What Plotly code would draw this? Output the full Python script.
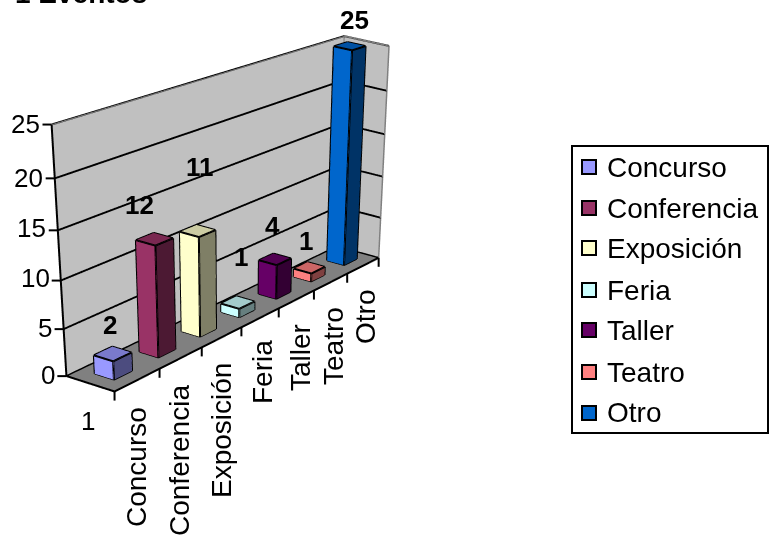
import numpy as np
import plotly.graph_objects as go

# ---- data
series = ["Concurso", "Conferencia", "Exposición", "Feria", "Taller", "Teatro", "Otro"]
values = [2, 12, 11, 1, 4, 1, 25]
colors = ["#9999FF", "#993366", "#FFFFCC", "#CCFFFF", "#660066", "#FF8080", "#0066CC"]
xlabels = ["1"] + series
zticks = [0, 5, 10, 15, 20, 25]
title = "1 Eventos"

# ---- scene set-up (the long lens needs a canvas larger than the visible window; the page crops it)
W, H = 1000, 1600
EYE = np.array([-5.9858, -4.1575, 2.3367])
CEN = np.array([-0.1644, -1.5522, -1.8933])
UP = np.array([0.0341, 0.1166, 1.0])
ASPECT = (2.0514, 0.2417, 1.0)
FOCAL, CX, CY = 1681.8008, 500.0, 696.6178
px = lambda x: x / W
py = lambda y: 1 - y / H


def to_screen(x, y, z):
    p = np.array([(x / 7 - .5) * ASPECT[0], (y - .5) * ASPECT[1], (z / 25 - .5) * ASPECT[2]])
    zc = EYE - CEN
    zc = zc / np.linalg.norm(zc)
    xc = np.cross(UP, zc)
    xc = xc / np.linalg.norm(xc)
    yc = np.cross(zc, xc)
    d = p - EYE
    return CX + FOCAL * (d @ xc) / -(d @ zc), CY - FOCAL * (d @ yc) / -(d @ zc)


def shade(c, k):
    r, g, b = [int(c[i:i + 2], 16) for i in (1, 3, 5)]
    return "#%02x%02x%02x" % (int(r * k), int(g * k), int(b * k))


fig = go.Figure()
for i, (n, v, col) in enumerate(zip(series, values, colors)):
    x0, x1, y0, y1 = i + .3, i + .7, .3, .7
    vx = [x0, x1, x1, x0, x0, x1, x1, x0]
    vy = [y0, y0, y1, y1, y0, y0, y1, y1]
    vz = [0, 0, 0, 0, v, v, v, v]
    I = [0, 0, 4, 4, 0, 0, 1, 1, 2, 2, 3, 3]
    J = [1, 2, 5, 6, 1, 5, 2, 6, 3, 7, 0, 4]
    K = [2, 3, 6, 7, 5, 4, 6, 5, 7, 6, 4, 7]
    fc = [shade(col, .5)] * 2 + [shade(col, .8)] * 2 + [shade(col, .5)] * 2 + [col] * 6
    fig.add_trace(go.Mesh3d(x=vx, y=vy, z=vz, i=I, j=J, k=K, facecolor=fc, flatshading=True, name=n, showlegend=False,
                            lighting=dict(ambient=1, diffuse=0, specular=0, fresnel=0, roughness=1), hoverinfo="skip"))
    ex, ey, ez = [], [], []
    for a, b in [(0, 1), (1, 2), (2, 3), (3, 0), (4, 5), (5, 6), (6, 7), (7, 4), (0, 4), (1, 5), (2, 6), (3, 7)]:
        ex += [vx[a], vx[b], None]
        ey += [vy[a], vy[b], None]
        ez += [vz[a], vz[b], None]
    fig.add_trace(go.Scatter3d(x=ex, y=ey, z=ez, mode="lines", line=dict(color="black", width=4), showlegend=False, hoverinfo="skip"))
# wall outline (grey) and axis lines (black)
fig.add_trace(go.Scatter3d(x=[0, 7, 7, 7, None, 7, 7], y=[1, 1, 0, 0, None, 1, 1], z=[25, 25, 25, 0, None, 0, 25],
                           mode="lines", line=dict(color="#808080", width=3), showlegend=False, hoverinfo="skip"))
fig.add_trace(go.Scatter3d(x=[0, 0, 0, 7], y=[1, 1, 0, 0], z=[25, 0, 0, 0],
                           mode="lines", line=dict(color="black", width=4), showlegend=False, hoverinfo="skip"))

ann = []
FONT = "Liberation Sans"


def txt(s, x, y, size, bold=False, angle=0, xa="center", ya="middle"):
    ann.append(dict(text="<b>%s</b>" % s if bold else s, xref="paper", yref="paper", x=px(x), y=py(y), xanchor=xa, yanchor=ya,
                    showarrow=False, textangle=angle, font=dict(family=FONT, size=size, color="black"), borderpad=0, borderwidth=0))


txt(title, 15, 9, 28, bold=True, xa="left", ya="bottom")
for t, xr, y in zip(zticks, [55, 52, 50, 46, 43, 40], [375, 328, 278, 228, 178, 124]):
    txt(str(t), xr, y, 26, xa="right")
for s, x, y, a, sz in zip(xlabels, [88, 136, 180, 222, 262, 300, 333, 365], [421, 467, 461, 431, 372, 358, 346, 317],
                          [0] + [-90] * 7, [26] + [28] * 7):
    txt(s, x, y, sz, angle=a)
for v, x, y in zip(values, [110, 139, 200, 241, 272, 306, 354], [325, 205, 167, 257, 226, 241, 20]):
    txt(str(v), x, y, 26, bold=True)

shapes = [dict(type="rect", xref="paper", yref="paper", x0=px(572), x1=px(768), y0=py(146), y1=py(433),
               line=dict(color="black", width=2), fillcolor="white")]
for n, col, y in zip(series, colors, [167, 208, 248, 290, 330, 372, 413]):
    shapes.append(dict(type="rect", xref="paper", yref="paper", x0=px(582), x1=px(596), y0=py(y - 7), y1=py(y + 7),
                       line=dict(color="black", width=2), fillcolor=col))
    txt(n, 607, y, 28, xa="left")
# tick marks: outside the scene box, placed from the axis values
for t in zticks:
    sx, sy = to_screen(0, 1, t)
    shapes.append(dict(type="line", xref="paper", yref="paper", x0=px(sx - 9), x1=px(sx), y0=py(sy), y1=py(sy), line=dict(color="black", width=2)))
for k in range(8):
    sx, sy = to_screen(k, 0, 0)
    shapes.append(dict(type="line", xref="paper", yref="paper", x0=px(sx), x1=px(sx), y0=py(sy), y1=py(sy + 9), line=dict(color="black", width=2)))

ax_common = dict(title="", showticklabels=False, showspikes=False, zeroline=False, showline=False, ticks="")
fig.update_layout(
    width=W, height=H, margin=dict(l=0, r=0, t=0, b=0), paper_bgcolor="white", showlegend=False, shapes=shapes, annotations=ann,
    scene=dict(
        domain=dict(x=[0, 1], y=[1 - 2 * CY / H, 1]),
        xaxis=dict(range=[0, 7], tickvals=list(range(8)), showgrid=False, showbackground=True, backgroundcolor="#C0C0C0", **ax_common),
        yaxis=dict(range=[0, 1], tickvals=[], showgrid=False, showbackground=True, backgroundcolor="#C0C0C0", **ax_common),
        zaxis=dict(range=[0, 25], tickvals=zticks, showgrid=True, gridcolor="black", gridwidth=4, showbackground=True, backgroundcolor="#808080", **ax_common),
        aspectmode="manual", aspectratio=dict(x=ASPECT[0], y=ASPECT[1], z=ASPECT[2]),
        camera=dict(eye=dict(x=EYE[0], y=EYE[1], z=EYE[2]), center=dict(x=CEN[0], y=CEN[1], z=CEN[2]),
                    up=dict(x=UP[0], y=UP[1], z=UP[2]), projection=dict(type="perspective"))))
fig.write_html("out.html", config=dict(displayModeBar=False),
               post_script="document.body.style.margin='0';var p=document.getElementById('{plot_id}').parentElement;p.style.height='543px';p.style.width='769px';p.style.overflow='hidden';document.documentElement.style.overflow='hidden';")
